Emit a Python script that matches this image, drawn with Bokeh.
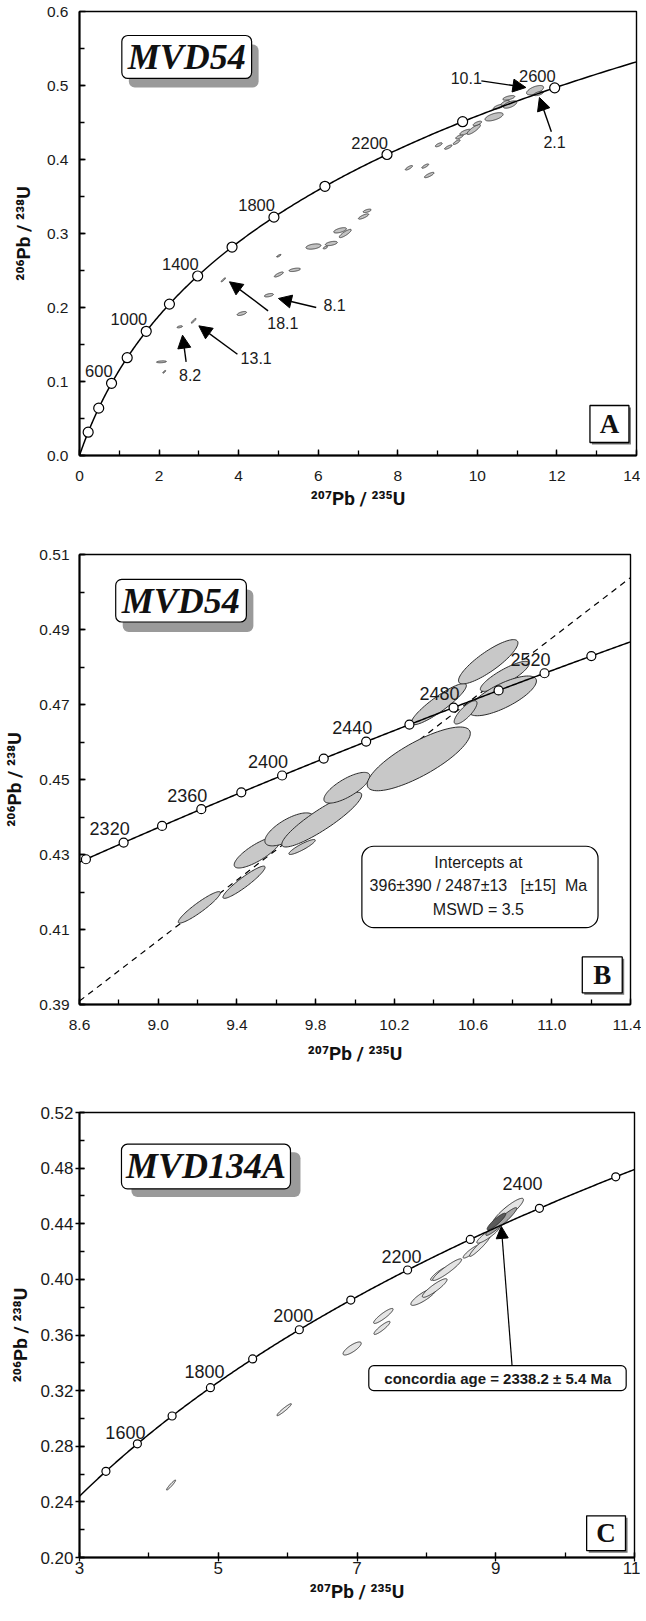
import numpy as np
from bokeh.plotting import figure
from bokeh.models import (Range1d, FixedTicker, PrintfTickFormatter, BoxAnnotation,
                          Label, Arrow, NormalHead)
from bokeh.layouts import column
from bokeh.core.properties import value
from bokeh.embed import file_html
from bokeh.resources import INLINE

# ---------------- decay constants (per year) ----------------
L238 = 1.55125e-10
L235 = 9.8485e-10

# ---------------- Panel A data ----------------
A_marker_ages = [200, 400, 600, 800, 1000, 1200, 1400, 1600, 1800, 2000, 2200, 2400, 2600]
A_label_ages = [600, 1000, 1400, 1800, 2200, 2600]
A_ell_x = [2.06, 2.13, 2.52, 2.87, 3.616, 4.08, 4.76, 5.01, 5.01, 5.41, 5.88, 6.18, 6.33,
           6.55, 6.68, 7.14, 7.23, 8.28, 8.69, 8.79, 9.03, 9.27, 9.48, 9.55, 9.70, 9.91,
           10.00, 10.42, 10.53, 10.70, 10.82, 10.79, 11.45, 11.54]
A_ell_y = [0.1266, 0.1131, 0.1739, 0.1820, 0.2374, 0.1919, 0.2166, 0.2699, 0.2446, 0.2509,
           0.2824, 0.2810, 0.2865, 0.3043, 0.3000, 0.3230, 0.3306, 0.3888, 0.3911, 0.3790,
           0.4199, 0.4167, 0.4235, 0.4307, 0.4370, 0.4406, 0.4487, 0.4577, 0.4712, 0.4765,
           0.4743, 0.4833, 0.4937, 0.4892]
A_ell_sx = [0.124, 0.036, 0.067, 0.059, 0.054, 0.117, 0.113, 0.054, 0.113, 0.142, 0.188,
            0.054, 0.150, 0.160, 0.150, 0.129, 0.100, 0.090, 0.086, 0.120, 0.086, 0.094,
            0.086, 0.094, 0.140, 0.167, 0.107, 0.227, 0.130, 0.107, 0.170, 0.150, 0.214, 0.120]
A_ell_sy = [0.0013, 0.0018, 0.0014, 0.0032, 0.0027, 0.0027, 0.0023, 0.0018, 0.0034, 0.0023,
            0.0036, 0.0018, 0.0029, 0.0036, 0.0056, 0.0036, 0.0023, 0.0031, 0.0029, 0.0036,
            0.0027, 0.0029, 0.0032, 0.0029, 0.0038, 0.0068, 0.0031, 0.0056, 0.0034, 0.0034,
            0.0050, 0.0031, 0.0063, 0.0029]
A_ell_rho = [0.3, 0.8, 0.5, 0.9, 0.9, 0.6, 0.5, 0.8, 0.8, 0.5, 0.4, 0.6, 0.5, 0.6, 0.85,
             0.8, 0.6, 0.8, 0.8, 0.8, 0.7, 0.8, 0.8, 0.7, 0.7, 0.85, 0.7, 0.6, 0.7, 0.7,
             0.6, 0.6, 0.6, 0.6]
A_spot_names = ["10.1", "2.1", "8.1", "18.1", "13.1", "8.2"]
A_spot_label_x = [9.72, 11.94, 6.41, 5.11, 4.44, 2.78]
A_spot_label_y = [0.5095, 0.4239, 0.2031, 0.1797, 0.1324, 0.1085]
A_spot_tail_x = [10.10, 11.86, 5.95, 4.74, 3.97, 2.68]
A_spot_tail_y = [0.5063, 0.4374, 0.2000, 0.1955, 0.1369, 0.1266]
A_spot_tip_x = [11.22, 11.56, 5.00, 3.77, 3.00, 2.59]
A_spot_tip_y = [0.4973, 0.4838, 0.2122, 0.2347, 0.1752, 0.1626]
A_xticks = [0, 2, 4, 6, 8, 10, 12, 14]
A_yticks = [0.0, 0.1, 0.2, 0.3, 0.4, 0.5, 0.6]

# ---------------- Panel B data ----------------
B_marker_ages = [2300, 2320, 2340, 2360, 2380, 2400, 2420, 2440, 2460, 2480, 2500, 2520, 2540]
B_label_ages = [2320, 2360, 2400, 2440, 2480, 2520]
B_intercepts_ma = [396, 2487]
B_ell_x = [9.209, 9.436, 9.505, 9.666, 9.831, 9.731, 9.959, 10.324, 10.426, 10.677, 10.761,
           10.750, 10.562]
B_ell_y = [0.4159, 0.4226, 0.4306, 0.4367, 0.4393, 0.4320, 0.4478, 0.4555, 0.4701, 0.4814,
           0.4775, 0.4723, 0.4679]
B_ell_sx = [0.107, 0.107, 0.119, 0.124, 0.203, 0.067, 0.117, 0.262, 0.140, 0.151, 0.124,
            0.172, 0.058]
B_ell_sy = [0.0042, 0.0043, 0.0042, 0.0044, 0.0073, 0.0020, 0.0041, 0.0085, 0.0055, 0.0059,
            0.0040, 0.0053, 0.0031]
B_ell_rho = [0.93, 0.93, 0.8, 0.7, 0.9, 0.9, 0.75, 0.8, 0.9, 0.85, 0.85, 0.75, 0.8]
B_result_lines = ["Intercepts at",
                  "396\u00b1390 / 2487\u00b113 \u00a0 [\u00b115] \u00a0Ma",
                  "MSWD = 3.5"]
B_xticks = [8.6, 9.0, 9.4, 9.8, 10.2, 10.6, 11.0, 11.4]
B_yticks = [0.39, 0.41, 0.43, 0.45, 0.47, 0.49, 0.51]

# ---------------- Panel C data ----------------
C_marker_ages = [1500, 1600, 1700, 1800, 1900, 2000, 2100, 2200, 2300, 2400, 2500]
C_label_ages = [1600, 1800, 2000, 2200, 2400]
C_ell_x = [4.32, 5.95, 6.93, 7.36, 7.38, 7.96, 8.12, 8.18, 8.30, 8.65, 8.77, 8.89, 9.176,
           9.08, 9.01]
C_ell_y = [0.2521, 0.3063, 0.3503, 0.3651, 0.3737, 0.3876, 0.3938, 0.4040, 0.4070, 0.4200,
           0.4239, 0.4320, 0.4489, 0.4416, 0.4416]
C_ell_sx = [0.065, 0.104, 0.131, 0.116, 0.140, 0.184, 0.178, 0.120, 0.208, 0.120, 0.148,
            0.163, 0.223, 0.223, 0.134]
C_ell_sy = [0.0036, 0.0043, 0.0047, 0.0047, 0.0054, 0.0063, 0.0067, 0.0047, 0.0078, 0.0047,
            0.0074, 0.0060, 0.0094, 0.0100, 0.0060]
C_ell_rho = [0.95, 0.95, 0.8, 0.9, 0.9, 0.85, 0.9, 0.9, 0.93, 0.9, 0.95, 0.9, 0.9, 0.95, 0.9]
C_ell_kind = ["light"] * 13 + ["medium", "dark"]
C_result_text = "concordia age = 2338.2 \u00b1 5.4 Ma"
C_xticks = [3, 5, 7, 9, 11]
C_yticks = [0.20, 0.24, 0.28, 0.32, 0.36, 0.40, 0.44, 0.48, 0.52]

X_TITLE = "\u00b2\u2070\u2077Pb / \u00b2\u00b3\u2075U"
Y_TITLE = "\u00b2\u2070\u2076Pb / \u00b2\u00b3\u2078U"

SANS = "Liberation Sans"
TITLE_FONT = "Roboto"
SERIF = "Liberation Serif"


def ratios(age_ma):
    t = np.asarray(age_ma, dtype=float) * 1e6
    return np.expm1(L235 * t), np.expm1(L238 * t)


def age_at_x(x75):
    return np.log1p(x75) / L235 / 1e6


def ellipse(x, y, sx, sy, r, n=90):
    t = np.linspace(0, 2 * np.pi, n)
    return x + sx * np.cos(t), y + sy * (r * np.cos(t) + np.sqrt(1 - r * r) * np.sin(t))


def make_fig(xr, yr, fw, fh, bl, br, bt, bb):
    p = figure(x_range=Range1d(*xr), y_range=Range1d(*yr), frame_width=fw, frame_height=fh,
               min_border_left=bl, min_border_right=br, min_border_top=bt, min_border_bottom=bb,
               output_backend="svg", toolbar_location=None,
               background_fill_color="white", border_fill_color="white")
    p.grid.visible = False
    p.outline_line_color = "black"
    p.outline_line_width = 1.4
    for ax in (p.xaxis[0], p.yaxis[0]):
        ax.axis_line_width = 2
        ax.axis_line_color = "black"
        ax.major_tick_line_color = "black"
        ax.minor_tick_line_color = "black"
        ax.major_tick_line_width = 1.3
        ax.minor_tick_line_width = 1.3
        ax.major_label_text_font = SANS
        ax.major_label_text_color = "#1a1a1a"
        ax.axis_label_text_font = TITLE_FONT
        ax.axis_label_text_font_style = "bold"
        ax.axis_label_text_font_size = "19px"
        ax.axis_label_text_color = "#111111"
    p.xaxis.axis_label = X_TITLE
    p.yaxis.axis_label = Y_TITLE
    return p


def add_concordia(p, xr, marker_ages, label_ages, msize, fsize, xoff, yoff, align="center"):
    ages = np.linspace(max(age_at_x(xr[0]), 0.0), age_at_x(xr[1]), 400)
    cx, cy = ratios(ages)
    p.line(cx, cy, line_color="black", line_width=1.5)
    mx, my = ratios(marker_ages)
    p.scatter(mx, my, size=msize, marker="circle", fill_color="white", line_color="black",
              line_width=1.2)
    lx, ly = ratios(label_ages)
    p.text(lx, ly, text=[str(a) for a in label_ages], text_font=value(SANS),
           text_font_size=fsize, text_color="#1a1a1a", text_align=align,
           text_baseline="middle", x_offset=xoff, y_offset=yoff)


def add_ellipses(p, xs, ys, sxs, sys_, rhos, fills, line_color="#2a2a2a", lw=0.9):
    px, py = [], []
    for x, y, sx, sy, r in zip(xs, ys, sxs, sys_, rhos):
        ex, ey = ellipse(x, y, sx, sy, r)
        px.append(ex)
        py.append(ey)
    p.patches(px, py, fill_color=fills, line_color=line_color, line_width=lw)


def name_box(p, left, right, bottom, top, dx, dy, text, tx, ty, fsize):
    p.add_layout(BoxAnnotation(left=left + dx, right=right + dx, bottom=bottom - dy, top=top - dy,
                               fill_color="#9a9a9a", fill_alpha=1, line_alpha=0,
                               border_radius=6))
    p.add_layout(BoxAnnotation(left=left, right=right, bottom=bottom, top=top,
                               fill_color="white", fill_alpha=1, line_color="black",
                               line_alpha=1, line_width=1.2, border_radius=6))
    p.add_layout(Label(x=tx, y=ty, text=text, text_font=SERIF, text_font_size=fsize,
                       text_font_style="bold italic", text_color="#111111",
                       text_align="center", text_baseline="middle"))


def letter_box(p, left, right, bottom, top, dx, dy, text, tx, ty):
    p.add_layout(BoxAnnotation(left=left + dx, right=right + dx, bottom=bottom - dy, top=top - dy,
                               fill_color="#777777", fill_alpha=1, line_alpha=0))
    p.add_layout(BoxAnnotation(left=left, right=right, bottom=bottom, top=top,
                               fill_color="white", fill_alpha=1, line_color="black",
                               line_alpha=1, line_width=1.3))
    p.add_layout(Label(x=tx, y=ty, text=text, text_font=SERIF, text_font_size="27px",
                       text_font_style="bold", text_color="#111111",
                       text_align="center", text_baseline="middle"))


# ======================= Panel A =======================
A_xr, A_yr = (0, 14), (0, 0.6)
pa = make_fig(A_xr, A_yr, 557, 444, 67, 12, 11, 77)
pa.xaxis.ticker = FixedTicker(ticks=A_xticks, minor_ticks=list(range(0, 15)))
pa.yaxis.ticker = FixedTicker(ticks=A_yticks, minor_ticks=[i * 0.05 for i in range(13)])
pa.xaxis.formatter = PrintfTickFormatter(format="%d")
pa.yaxis.formatter = PrintfTickFormatter(format="%.1f")
for ax in (pa.xaxis[0], pa.yaxis[0]):
    ax.major_tick_in, ax.major_tick_out = 6, 0
    ax.minor_tick_in, ax.minor_tick_out = 5, 0
    ax.major_label_text_font_size = "15.5px"
pa.xaxis.major_label_standoff = 15
pa.xaxis.axis_label_standoff = 3
pa.yaxis.major_label_standoff = 11
pa.yaxis.axis_label_standoff = 9

add_ellipses(pa, A_ell_x, A_ell_y, A_ell_sx, A_ell_sy, A_ell_rho, "#c2c2c2", lw=0.8)
add_concordia(pa, A_xr, A_marker_ages, A_label_ages, 10, "16.5px", 1, -12, align="right")
for i, name in enumerate(A_spot_names):
    pa.add_layout(Arrow(end=NormalHead(size=13, fill_color="black", line_color="black"),
                        x_start=A_spot_tail_x[i], y_start=A_spot_tail_y[i],
                        x_end=A_spot_tip_x[i], y_end=A_spot_tip_y[i],
                        line_color="black", line_width=1.4))
pa.text(A_spot_label_x, A_spot_label_y, text=A_spot_names, text_font=value(SANS),
        text_font_size="16px", text_color="#1a1a1a", text_align="center",
        text_baseline="middle")
name_box(pa, 1.064, 4.326, 0.5095, 0.5676, 0.176, 0.0122, "MVD54", 2.695, 0.5385, "36px")
letter_box(pa, 12.83, 13.81, 0.0176, 0.0676, 0.05, 0.0027, "A", 13.32, 0.0426)

# ======================= Panel B =======================
B_xr, B_yr = (8.6, 11.4), (0.39, 0.51)
pb = make_fig(B_xr, B_yr, 551, 450, 74, 11, 22, 78)
pb.xaxis.ticker = FixedTicker(ticks=B_xticks, minor_ticks=[8.6 + 0.2 * i for i in range(15)])
pb.yaxis.ticker = FixedTicker(ticks=B_yticks, minor_ticks=[0.39 + 0.01 * i for i in range(13)])
pb.xaxis.formatter = PrintfTickFormatter(format="%.1f")
pb.yaxis.formatter = PrintfTickFormatter(format="%.2f")
for ax in (pb.xaxis[0], pb.yaxis[0]):
    ax.major_tick_in, ax.major_tick_out = 6, 0
    ax.minor_tick_in, ax.minor_tick_out = 5, 0
    ax.major_label_text_font_size = "15.5px"
pb.xaxis.major_label_standoff = 15
pb.xaxis.axis_label_standoff = 9
pb.yaxis.major_label_standoff = 10
pb.yaxis.axis_label_standoff = 10

# discordia through the two intercepts
ix, iy = ratios(B_intercepts_ma)
slope = (iy[1] - iy[0]) / (ix[1] - ix[0])
dx_end = np.array(B_xr, dtype=float)
dy_end = iy[1] + slope * (dx_end - ix[1])
pb.line(dx_end, dy_end, line_color="black", line_width=1.2, line_dash="6 5")
add_ellipses(pb, B_ell_x, B_ell_y, B_ell_sx, B_ell_sy, B_ell_rho, "#c8c8c8", lw=1.0)
add_concordia(pb, B_xr, B_marker_ages, B_label_ages, 9, "18px", -14, -14)
pb.add_layout(BoxAnnotation(left=10.035, right=11.235, bottom=0.4105, top=0.4322,
                            fill_color="white", fill_alpha=1, line_color="black",
                            line_alpha=1, line_width=1.2, border_radius=12))
for line_text, ly_ in zip(B_result_lines, [0.4280, 0.4218, 0.4154]):
    pb.add_layout(Label(x=10.627, y=ly_, text=line_text, text_font=SANS,
                        text_font_size="16px", text_color="#1a1a1a",
                        text_align="center", text_baseline="middle"))
name_box(pb, 8.784, 9.448, 0.4920, 0.50335, 0.0356, 0.00267, "MVD54", 9.115, 0.4977, "36px")
letter_box(pb, 11.155, 11.358, 0.3931, 0.4027, 0.01, 0.0005, "B", 11.256, 0.3978)

# ======================= Panel C =======================
C_xr, C_yr = (3, 11), (0.20, 0.52)
pc = make_fig(C_xr, C_yr, 555, 445, 69, 12, 30, 48)
pc.xaxis.ticker = FixedTicker(ticks=C_xticks, minor_ticks=list(range(3, 12)))
pc.yaxis.ticker = FixedTicker(ticks=C_yticks, minor_ticks=[0.20 + 0.02 * i for i in range(17)])
pc.xaxis.formatter = PrintfTickFormatter(format="%d")
pc.yaxis.formatter = PrintfTickFormatter(format="%.2f")
for ax in (pc.xaxis[0], pc.yaxis[0]):
    ax.major_tick_in, ax.major_tick_out = 5, 4
    ax.minor_tick_in, ax.minor_tick_out = 5, 0
    ax.major_label_text_font_size = "17px"
pc.xaxis.major_label_standoff = 0
pc.xaxis.axis_label_standoff = 3
pc.yaxis.major_label_standoff = 2
pc.yaxis.axis_label_standoff = 5

fill_map = {"light": "#e4e4e4", "medium": "#a6a6a6", "dark": "#5a5a5a"}
add_ellipses(pc, C_ell_x, C_ell_y, C_ell_sx, C_ell_sy, C_ell_rho,
             [fill_map[k] for k in C_ell_kind], lw=0.9)
label_dx = [-12, -6, -6, -6, -17]
label_dy = [-11, -16, -14, -14, -25]
cx_, cy_ = ratios(np.linspace(age_at_x(C_xr[0]), age_at_x(C_xr[1]), 400))
pc.line(cx_, cy_, line_color="black", line_width=1.5)
mx, my = ratios(C_marker_ages)
pc.scatter(mx, my, size=8, marker="circle", fill_color="white", line_color="black",
           line_width=1.2)
lx, ly = ratios(C_label_ages)
pc.text(lx, ly, text=[str(a) for a in C_label_ages], text_font=value(SANS),
        text_font_size="18px", text_color="#1a1a1a", text_align="center",
        text_baseline="middle", x_offset=label_dx, y_offset=label_dy)
pc.add_layout(Arrow(end=NormalHead(size=12, fill_color="black", line_color="black"),
                    x_start=9.235, y_start=0.338, x_end=9.08, y_end=0.4381,
                    line_color="black", line_width=1.2))
pc.add_layout(BoxAnnotation(left=7.17, right=10.88, bottom=0.320, top=0.338,
                            fill_color="white", fill_alpha=1, line_color="black",
                            line_alpha=1, line_width=1.2, border_radius=5))
pc.add_layout(Label(x=9.03, y=0.329, text=C_result_text, text_font=SANS, text_font_size="15px",
                    text_font_style="bold", text_color="#1a1a1a", text_align="center",
                    text_baseline="middle"))
name_box(pc, 3.605, 6.041, 0.4651, 0.4972, 0.144, 0.0058, "MVD134A", 4.823, 0.4812, "36px")
letter_box(pc, 10.31, 10.87, 0.205, 0.230, 0.03, 0.0015, "C", 10.59, 0.2175)

layout = column(pa, pb, pc, spacing=0)
open("out.html", "w").write(file_html(layout, INLINE))
